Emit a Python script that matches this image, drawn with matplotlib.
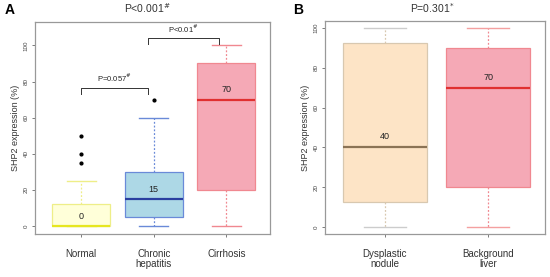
import matplotlib.pyplot as plt

plt.rcParams['font.family'] = ['Liberation Sans', 'DejaVu Sans']

# Panel A data (SHP2 expression, %)
groups_a = ['Normal', 'Chronic\nhepatitis', 'Cirrhosis']
whislo_a = [0, 0, 0]
q1_a = [0, 5, 20]
med_a = [0, 15, 70]
q3_a = [12.5, 30, 90]
whishi_a = [25, 60, 100]
fliers_a = [[50, 40, 35], [70], []]

# Panel B data
groups_b = ['Dysplastic\nnodule', 'Background\nliver']
whislo_b = [0, 0]
q1_b = [12.5, 20]
med_b = [40, 70]
q3_b = [92.5, 90]
whishi_b = [100, 100]

fill_a = ['#FFFFD9', '#ADD8E6', '#F5A9B6']
edge_a = ['#EEEE88', '#6A8AD8', '#F08890']
medc_a = ['#E6E620', '#2A3FA0', '#E03030']
fill_b = ['#FDE4C6', '#F5A9B6']
edge_b = ['#D8C8B0', '#F08890']
medc_b = ['#8B7355', '#E03030']
cap_b = ['#CCCCCC', '#F4A0A0']

fig = plt.figure(figsize=(5.5, 2.77), dpi=100)
axA = fig.add_axes([0.0636, 0.155, 0.4273, 0.766])
axB = fig.add_axes([0.591, 0.155, 0.4, 0.769])


def draw(ax, names, lo, q1, med, q3, hi, fl, fills, edges, medcs, caps, width):
    stats = []
    for i in range(len(names)):
        stats.append(dict(whislo=lo[i], q1=q1[i], med=med[i], q3=q3[i],
                          whishi=hi[i], fliers=fl[i]))
    pos = list(range(1, len(names) + 1))
    b = ax.bxp(stats, positions=pos, widths=width, patch_artist=True,
               capwidths=width * 0.5)
    for i in range(len(names)):
        b['boxes'][i].set(facecolor=fills[i], edgecolor=edges[i], linewidth=0.9)
        b['medians'][i].set(color=medcs[i], linewidth=1.6)
        for w in b['whiskers'][2 * i:2 * i + 2]:
            w.set(color=edges[i], linestyle=(0, (1.5, 1.5)), linewidth=0.9)
        for c in b['caps'][2 * i:2 * i + 2]:
            c.set(color=caps[i], linewidth=1.0)
        b['fliers'][i].set(marker='o', markersize=2, markerfacecolor='black',
                           markeredgecolor='black')
        ax.text(pos[i], med[i] + 3, f'{med[i]}', ha='center', va='bottom',
                fontsize=6.5, color='#222222')
    ax.set_xticks(pos)
    ax.set_xticklabels(names, fontsize=7, color='#333333', linespacing=1.1)
    ax.set_yticks([0, 20, 40, 60, 80, 100])
    ax.set_yticklabels(['0', '20', '40', '60', '80', '100'], rotation=90,
                       fontsize=4.5, va='center', color='#444444')
    ax.tick_params(axis='both', length=2.5, width=0.6, color='#666666', pad=2)
    ax.tick_params(axis='x', pad=8)
    for s in ax.spines.values():
        s.set_color('#999999')
        s.set_linewidth(0.9)
    ax.set_ylabel('SHP2 expression (%)', fontsize=6.5, color='#333333', labelpad=3)


draw(axA, groups_a, whislo_a, q1_a, med_a, q3_a, whishi_a, fliers_a,
     fill_a, edge_a, medc_a, edge_a, 0.8)
axA.set_xlim(0.366, 3.6)
axA.set_ylim(-4.4, 113)

# brackets
def bracket(ax, x1, x2, y, h, label):
    ax.plot([x1, x1, x2, x2], [y - h, y, y, y - h], color='#333333', linewidth=0.7)
    ax.text((x1 + x2) / 2, y + 2, label, ha='center', va='bottom', fontsize=5.5,
            color='#222222')

bracket(axA, 1.0, 1.92, 76.5, 3.5, 'P=0.057$^{\\#}$')
bracket(axA, 1.92, 2.9, 104, 3.5, 'P<0.01$^{\\#}$')

fig.text(0.268, 0.97, 'P<0.001$^{\\#}$', ha='center', va='center', fontsize=7.5,
         color='#333333')
fig.text(0.018, 0.965, 'A', ha='center', va='center', fontsize=10,
         fontweight='bold')

draw(axB, groups_b, whislo_b, q1_b, med_b, q3_b, whishi_b, [[], []],
     fill_b, edge_b, medc_b, cap_b, 0.81)
axB.set_xlim(0.42, 2.55)
axB.set_ylim(-3.5, 103.5)

fig.text(0.785, 0.97, 'P=0.301$^{*}$', ha='center', va='center', fontsize=7.5,
         color='#333333')
fig.text(0.542, 0.965, 'B', ha='center', va='center', fontsize=10,
         fontweight='bold')

fig.savefig('out.png', dpi=100)
